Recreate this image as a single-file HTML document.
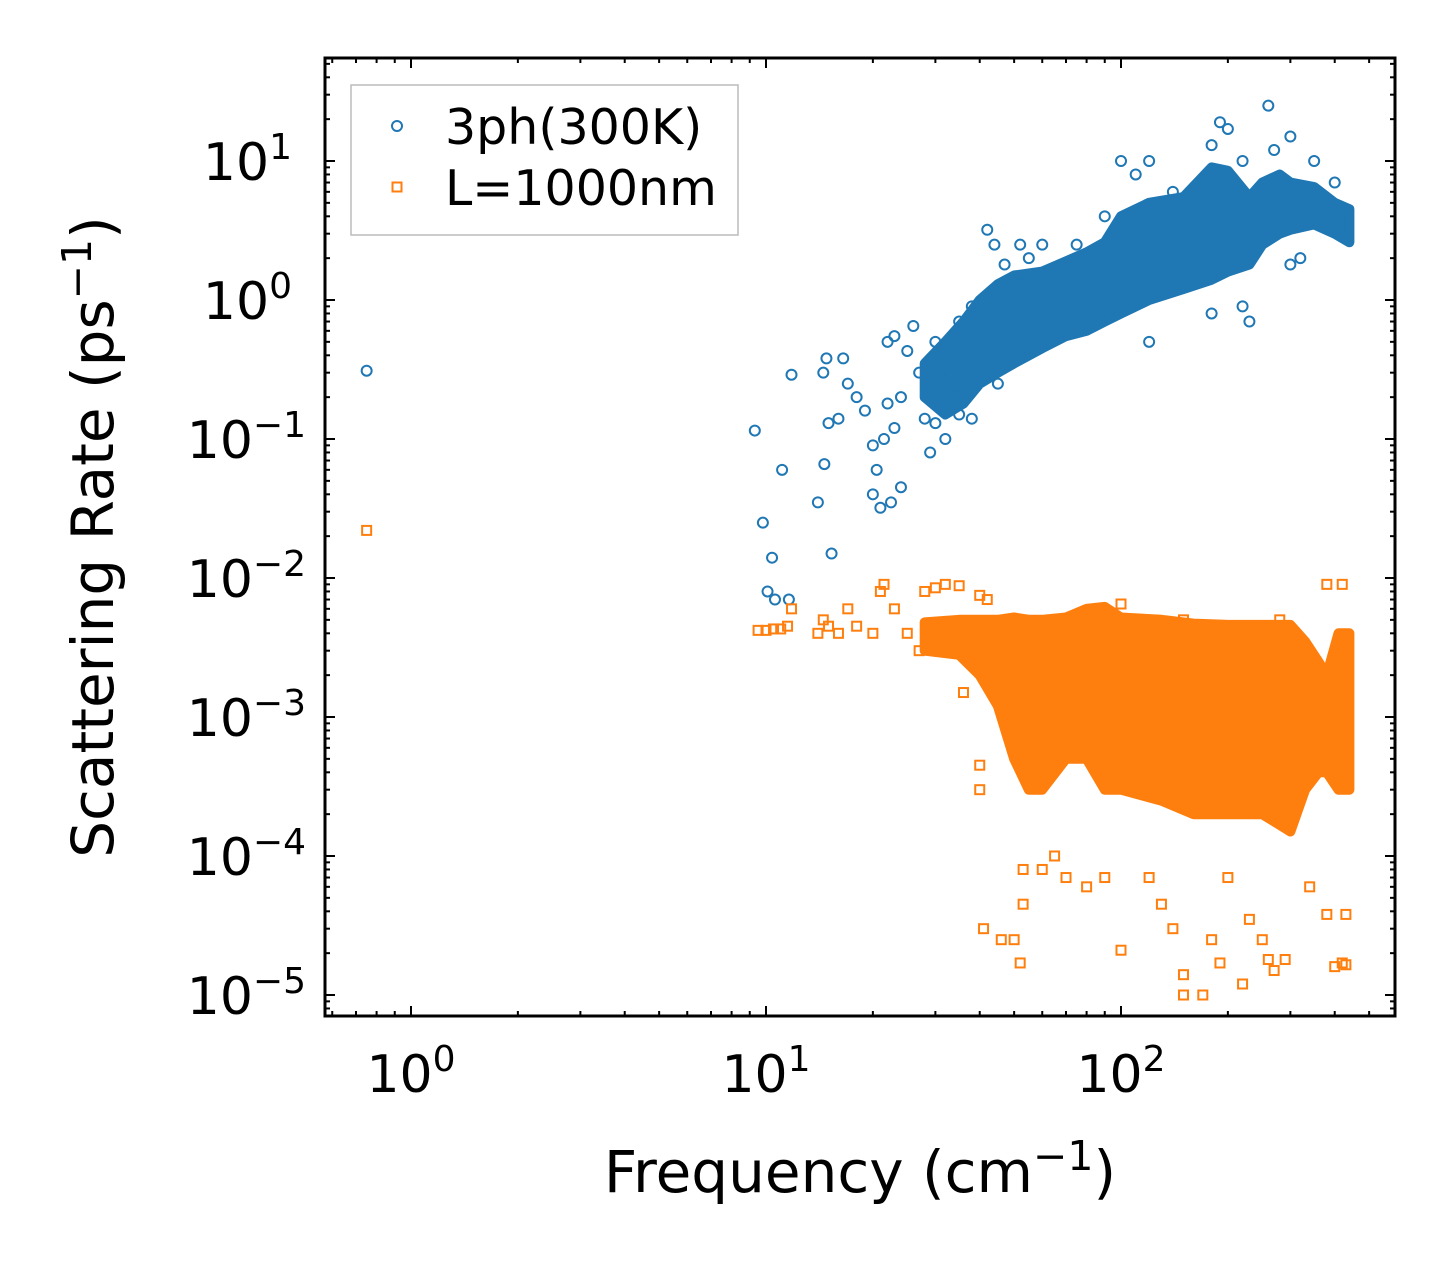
<!DOCTYPE html>
<html><head><meta charset="utf-8"><style>
html,body{margin:0;padding:0;background:#fff}
svg{display:block;font-family:"DejaVu Sans","Liberation Sans",sans-serif}
</style></head><body>
<svg id="chart" width="1455" height="1265" viewBox="0 0 1455 1265"></svg>
<script>
// ---- data ----
const blueCoreFreq = [28,32,36,40,45,50,60,70,80,90,100,120,150,180,200,230,250,280,300,350,400,440];
const blueCoreLo   = [0.2,0.15,0.18,0.25,0.3,0.35,0.45,0.55,0.6,0.7,0.8,1.0,1.2,1.4,1.6,1.8,2.5,3.0,3.2,3.5,3.0,2.6];
const blueCoreHi   = [0.35,0.5,0.7,1.0,1.3,1.5,1.6,1.9,2.2,2.6,4.0,5.0,5.5,9.0,8.5,5.5,7.0,8.0,7.0,6.5,5.0,4.5];
const bluePtsFreq = [0.75,9.3,9.8,10.1,10.4,10.6,11.1,11.6,11.8,14,14.5,14.6,14.8,15,15.3,16,16.5,17,18,19,20,20,20.5,21,21.5,22,22,22.5,23,23,24,24,25,26,27,28,29,30,30,32,33,35,35,38,42,44,47,52,55,60,75,90,100,110,120,140,180,190,200,220,230,260,270,300,350,400,180,120,220,300,320,30,34,38,45];
const bluePtsRate = [0.31,0.115,0.025,0.008,0.014,0.007,0.06,0.007,0.29,0.035,0.3,0.066,0.38,0.13,0.015,0.14,0.38,0.25,0.2,0.16,0.04,0.09,0.06,0.032,0.1,0.18,0.5,0.035,0.55,0.12,0.045,0.2,0.43,0.65,0.3,0.14,0.08,0.2,0.5,0.1,0.3,0.7,0.15,0.9,3.2,2.5,1.8,2.5,2.0,2.5,2.5,4,10,8,10,6,13,19,17,10,0.7,25,12,15,10,7,0.8,0.5,0.9,1.8,2,0.13,0.2,0.14,0.25];
const orangeCoreFreq = [28,35,40,45,50,55,60,70,80,90,100,130,160,200,250,300,330,360,380,410,440];
const orangeCoreLo   = [0.003,0.0028,0.002,0.0012,0.0005,0.0003,0.0003,0.0005,0.0005,0.0003,0.0003,0.00025,0.0002,0.0002,0.0002,0.00015,0.0003,0.0004,0.0004,0.0003,0.0003];
const orangeCoreHi   = [0.0048,0.005,0.005,0.005,0.0052,0.005,0.005,0.0052,0.006,0.0062,0.0052,0.005,0.0047,0.0046,0.0046,0.0046,0.0035,0.0025,0.002,0.004,0.004];
const orangePtsFreq = [0.75,9.5,10,10.5,11,11.5,11.8,14,14.5,15,16,17,18,20,21,21.5,23,25,27,28,30,32,35,40,42,36,40,40,41,46,50,52,53,53,60,65,70,80,90,100,120,130,140,150,150,170,180,190,200,220,230,250,260,270,290,340,380,400,420,430,430,420,380,280,150,100];
const orangePtsRate = [0.022,0.0042,0.0042,0.0043,0.0043,0.0045,0.006,0.004,0.005,0.0045,0.004,0.006,0.0045,0.004,0.008,0.009,0.006,0.004,0.003,0.008,0.0085,0.009,0.0088,0.0075,0.007,0.0015,0.00045,0.0003,0.00003,0.000025,0.000025,0.000017,0.00008,0.000045,0.00008,0.0001,0.00007,0.00006,0.00007,0.000021,0.00007,0.000045,0.00003,0.00001,0.000014,0.00001,0.000025,0.000017,0.00007,0.000012,0.000035,0.000025,0.000018,0.000015,0.000018,0.00006,0.000038,0.000016,0.000017,0.0000165,0.000038,0.009,0.009,0.005,0.005,0.0065];
const xTickExps = [0,1,2];
const yTickExps = [1,0,-1,-2,-3,-4,-5];

// ---- axes ----
const L=325,R=1395,T=58,B=1016;
const X0=411, XD=355, Y0=300, YD=139;
const xs = f => X0 + XD*Math.log10(f);
const ys = r => Y0 - YD*Math.log10(r);
const svg = document.getElementById('chart');
const NS='http://www.w3.org/2000/svg';
function mk(tag, attrs, parent){const e=document.createElementNS(NS,tag);for(const k in attrs)e.setAttribute(k,attrs[k]);(parent||svg).appendChild(e);return e;}
const BLUE='#1f77b4', ORANGE='#ff7f0e';

const defs=mk('defs',{});
const cp=mk('clipPath',{id:'pc'},defs); mk('rect',{x:L,y:T,width:R-L,height:B-T},cp);
const plot=mk('g',{'clip-path':'url(#pc)'});



function core(fr,lo,hi,color,name){
  let d='';
  fr.forEach((f,i)=>{d+=(i?'L':'M')+xs(f).toFixed(1)+','+ys(hi[i]).toFixed(1);});
  for(let i=fr.length-1;i>=0;i--) d+='L'+xs(fr[i]).toFixed(1)+','+ys(lo[i]).toFixed(1);
  const p=mk('path',{d:d+'Z',fill:color,stroke:color,'stroke-width':10,'stroke-linejoin':'round'},plot);
  
  
}
core(blueCoreFreq,blueCoreLo,blueCoreHi,BLUE,'3ph-dense-cloud');
core(orangeCoreFreq,orangeCoreLo,orangeCoreHi,ORANGE,'boundary-dense-cloud');

bluePtsFreq.forEach((f,i)=>{
  const c=mk('circle',{cx:xs(f),cy:ys(bluePtsRate[i]),r:5,fill:'none',stroke:BLUE,'stroke-width':2},plot);
  
  
});
orangePtsFreq.forEach((f,i)=>{
  const s=mk('rect',{x:xs(f)-4.5,y:ys(orangePtsRate[i])-4.5,width:9,height:9,fill:'none',stroke:ORANGE,'stroke-width':2},plot);
  
  
});

const tg=mk('g',{stroke:'#000','stroke-width':2});


for(let e=-1;e<=2;e++)for(let m=1;m<10;m++){
  const x=xs(m*Math.pow(10,e)); if(x<L||x>R)continue;
  const len=m===1?10:5;
  mk('line',{x1:x,x2:x,y1:B,y2:B-len},tg); mk('line',{x1:x,x2:x,y1:T,y2:T+len},tg);
}
for(let e=-6;e<=1;e++)for(let m=1;m<10;m++){
  const y=ys(m*Math.pow(10,e)); if(y<T||y>B)continue;
  const len=m===1?10:5;
  mk('line',{x1:L,x2:L+len,y1:y,y2:y},tg); mk('line',{x1:R,x2:R-len,y1:y,y2:y},tg);
}
const fr=mk('rect',{x:L,y:T,width:R-L,height:B-T,fill:'none',stroke:'#000','stroke-width':3});



function sup(x,y,anchor,base,exp,name){
  const e=mk('text',{x:x,y:y,'text-anchor':anchor,'font-size':52,fill:'#000'});
  
  
  const a=mk('tspan',{},e); a.textContent=base;
  const b=mk('tspan',{dy:-21,'font-size':36},e); b.textContent=exp;
  return e;
}
xTickExps.forEach(k=>{ sup(xs(Math.pow(10,k)),1092,'middle','10',String(k).replace('-','\u2212'),'x-tick-label'); });
yTickExps.forEach(k=>{
  const ex=String(k).replace('-','\u2212');
  sup(k<0?306:292,ys(Math.pow(10,k))+19,'end','10',ex,'y-tick-label');
});

const xt=mk('text',{x:860,y:1192,'text-anchor':'middle','font-size':58,fill:'#000'});


xt.innerHTML='Frequency (cm<tspan dy="-22" font-size="41">\u22121</tspan><tspan dy="22">)</tspan>';
const yt=mk('text',{x:0,y:0,'text-anchor':'middle','font-size':58,fill:'#000',transform:'translate(113,537) rotate(-90)'});


yt.innerHTML='Scattering Rate (ps<tspan dy="-22" font-size="41">\u22121</tspan><tspan dy="22">)</tspan>';

const lg=mk('g',{});


mk('rect',{x:351,y:85,width:387,height:150,fill:'#fff',stroke:'#bbb','stroke-width':1.5},lg);
const lc=mk('circle',{cx:397,cy:126,r:5,fill:'none',stroke:BLUE,'stroke-width':2},lg);


const l1=mk('text',{x:445,y:144,'font-size':49,fill:'#000'},lg); l1.textContent='3ph(300K)';


const ls=mk('rect',{x:392.5,y:182.5,width:9,height:9,fill:'none',stroke:ORANGE,'stroke-width':2},lg);


const l2=mk('text',{x:445,y:205,'font-size':49,fill:'#000'},lg); l2.textContent='L=1000nm';


</script>
</body></html>
